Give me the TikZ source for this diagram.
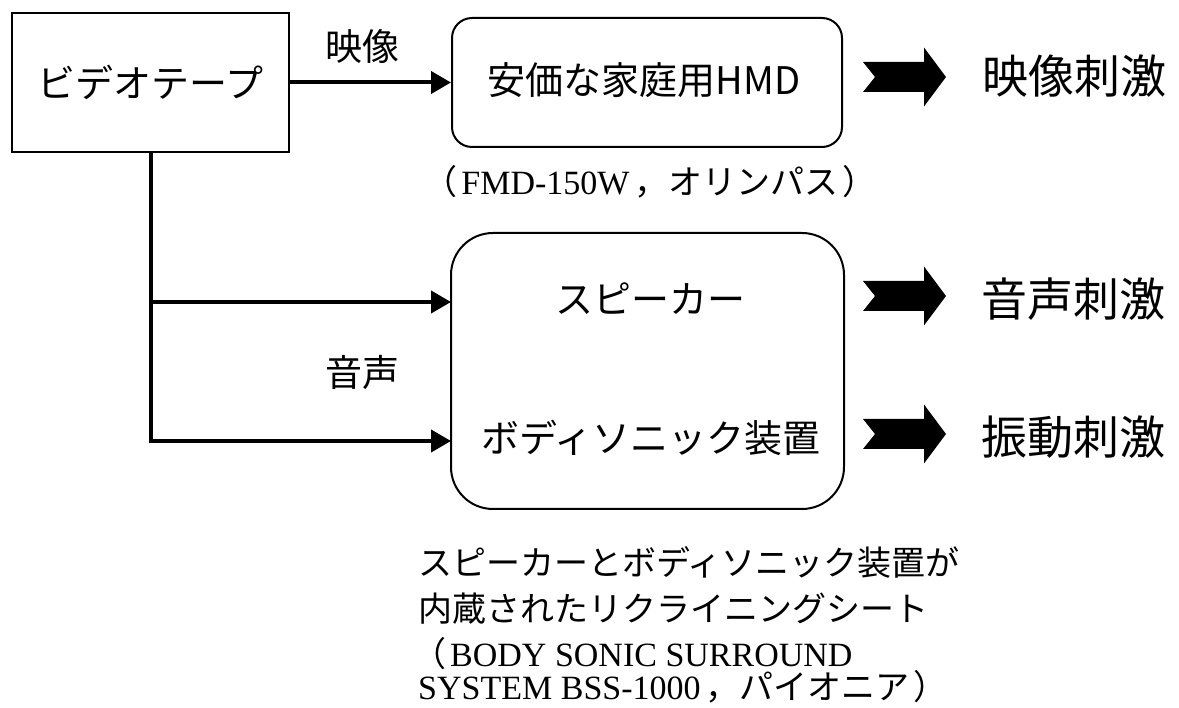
\documentclass[tikz,border=0pt]{standalone}
\usepackage{fontspec}
\setmainfont{Liberation Serif}
\newfontfamily\jp{Noto Sans CJK JP}
\usetikzlibrary{arrows.meta}
\begin{document}
\begin{tikzpicture}[x=1pt,y=-1pt,
  box/.style={draw, line width=2pt, inner sep=0pt, font=\jp\fontsize{38}{44}\selectfont},
  rbox/.style={box, rounded corners=#1},
  txt/.style={inner sep=0pt, font=\jp\fontsize{38}{44}\selectfont},
  lbl/.style={inner sep=0pt, font=\jp\fontsize{37}{44}\selectfont},
  stim/.style={inner sep=0pt, font=\jp\fontsize{46}{52}\selectfont},
  note/.style={inner sep=0pt, anchor=base west, font=\fontsize{34}{40}\selectfont},
  conn/.style={line width=4pt, -{Triangle[length=20pt,width=22pt]}},
  fatarrow/.pic={\fill (0,-15) -- (61,-15) -- (61,-29.5) -- (83,0) -- (61,29.5) -- (61,15) -- (0,15) -- (12,0) -- cycle;}
]
\useasboundingbox (0,0) rectangle (1179,708);
% boxes
\node[box, minimum width=277pt, minimum height=139pt] (tape) at (150.5,82.5) {\raisebox{3pt}{ビデオテープ}};
\node[rbox=20pt, minimum width=390pt, minimum height=129pt] (hmd) at (647,82.5) {};
\node[txt] (hmdtxt) at (644,80) {安価な家庭用HMD};
\node[rbox=42pt, minimum width=393pt, minimum height=276pt] (seat) at (647.5,371) {};
\node[txt] (spk) at (650,299) {スピーカー};
\node[txt] (bsd) at (651,438) {ボディソニック装置};
% connector ends
\coordinate (s1) at (451,302);
\coordinate (s2) at (451,441);
% connectors
\draw[conn] (tape.east) -- (hmd.west);
\draw[conn] (tape.south) |- (s1);
\draw[conn] (tape.south) |- (s2);
% labels
\node[lbl] (lv) at (362,47) {映像};
\node[lbl] (la) at (362,372) {音声};
% fat arrows
\pic at (863,77) {fatarrow};
\pic at (863,296) {fatarrow};
\pic at (863,434) {fatarrow};
% stimuli
\node[stim] (st1) at (1074,76) {映像刺激};
\node[stim] (st2) at (1073,299) {音声刺激};
\node[stim] (st3) at (1073,437) {振動刺激};
% notes
\node[inner sep=0pt, font=\fontsize{34}{40}\selectfont] (fmd) at (650,182) {{\jp （}\hspace{4pt}FMD-150W\hspace{5pt}{\jp ，オリンパス}\hspace{4pt}{\jp ）}};
\node[note] (n1) at (418,576) {\jp スピーカーとボディソニック装置が};
\node[note] (n2) at (418,621) {\jp 内蔵されたリクライニングシート};
\node[note] (n3) at (412,666) {{\jp （}\hspace{4pt}BODY SONIC SURROUND};
\node[note] (n4) at (418,699) {SYSTEM BSS-1000\hspace{5pt}{\jp ，パイオニア}\hspace{4pt}{\jp ）}};
\end{tikzpicture}
\end{document}
